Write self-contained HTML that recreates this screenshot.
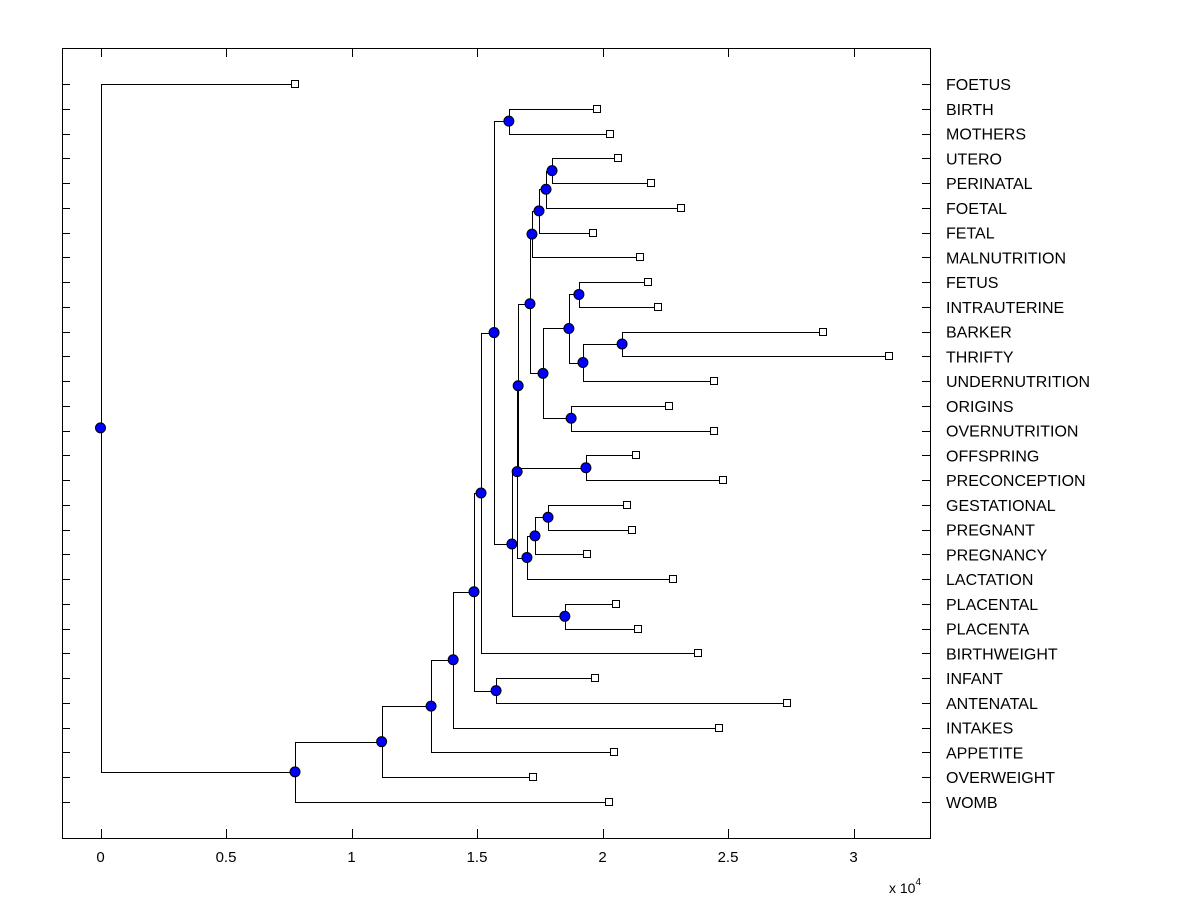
<!DOCTYPE html>
<html><head><meta charset="utf-8"><style>
body{margin:0;background:#fff}
svg text{font-family:"Liberation Sans",Arial,sans-serif}
</style></head><body>
<svg id="chart" width="1200" height="900" xmlns="http://www.w3.org/2000/svg">
<rect x="0" y="0" width="1200" height="900" fill="#fff"/>
<g id="g"></g>
</svg>
<script>
const leafNames = ["FOETUS","BIRTH","MOTHERS","UTERO","PERINATAL","FOETAL","FETAL","MALNUTRITION","FETUS","INTRAUTERINE","BARKER","THRIFTY","UNDERNUTRITION","ORIGINS","OVERNUTRITION","OFFSPRING","PRECONCEPTION","GESTATIONAL","PREGNANT","PREGNANCY","LACTATION","PLACENTAL","PLACENTA","BIRTHWEIGHT","INFANT","ANTENATAL","INTAKES","APPETITE","OVERWEIGHT","WOMB"];
const leafValues = [0.775,1.978,2.03,2.062,2.193,2.313,1.962,2.149,2.181,2.221,2.878,3.141,2.444,2.265,2.444,2.133,2.480,2.098,2.118,1.938,2.281,2.054,2.142,2.381,1.970,2.735,2.464,2.046,1.723,2.026];
// internal nodes: [name, value, childA, childB] children are leaf names or node names
const nodeDefs = [
 ["N17",1.799,"UTERO","PERINATAL"],
 ["N16",1.775,"N17","FOETAL"],
 ["N15",1.747,"N16","FETAL"],
 ["N13",1.719,"N15","MALNUTRITION"],
 ["Nfet",1.906,"FETUS","INTRAUTERINE"],
 ["Nbark",2.078,"BARKER","THRIFTY"],
 ["N19",1.922,"Nbark","UNDERNUTRITION"],
 ["N18",1.866,"Nfet","N19"],
 ["Norig",1.875,"ORIGINS","OVERNUTRITION"],
 ["N14",1.763,"N18","Norig"],
 ["N12",1.711,"N13","N14"],
 ["Noff",1.934,"OFFSPRING","PRECONCEPTION"],
 ["N10",1.664,"N12","Noff"],
 ["N21",1.783,"GESTATIONAL","PREGNANT"],
 ["N20",1.731,"N21","PREGNANCY"],
 ["N11",1.699,"N20","LACTATION"],
 ["N9",1.660,"N10","N11"],
 ["Nplac",1.850,"PLACENTAL","PLACENTA"],
 ["N8",1.639,"N9","Nplac"],
 ["Nbirth",1.627,"BIRTH","MOTHERS"],
 ["N7",1.568,"Nbirth","N8"],
 ["N6",1.516,"N7","BIRTHWEIGHT"],
 ["Ninf",1.576,"INFANT","ANTENATAL"],
 ["N5",1.488,"N6","Ninf"],
 ["N4",1.405,"N5","INTAKES"],
 ["N3",1.317,"N4","APPETITE"],
 ["N2",1.120,"N3","OVERWEIGHT"],
 ["N1",0.775,"N2","WOMB"],
 ["root",0,"FOETUS","N1"]
];
const xTicks=[0,0.5,1,1.5,2,2.5,3];
const xTickLabels=["0","0.5","1","1.5","2","2.5","3"];

const L=62,R=930,T=48,B=838;
const X=v=>100.5+v*251;
const Y=i=>84+i*(802-84)/29;
const NS="http://www.w3.org/2000/svg";
const g=document.getElementById('g');
function el(t,a,p){const e=document.createElementNS(NS,t);for(const k in a)e.setAttribute(k,a[k]);(p||g).appendChild(e);return e;}
const pos={};
leafNames.forEach((n,i)=>pos[n]={x:X(leafValues[i]),y:Y(i)});
nodeDefs.forEach(d=>{const a=pos[d[2]],b=pos[d[3]];pos[d[0]]={x:X(d[1]),y:(a.y+b.y)/2};});
// axes box
const box=el('rect',{x:L+.5,y:T+.5,width:R-L,height:B-T,fill:'none',stroke:'#000'});


// y ticks
leafNames.forEach((n,i)=>{
 const y=Math.round(Y(i))+.5;
 el('line',{x1:L,y1:y,x2:L+8,y2:y,stroke:'#000'});
 el('line',{x1:R-8,y1:y,x2:R,y2:y,stroke:'#000'});
 const t=el('text',{x:946,y:Y(i)+6,'font-size':16,fill:'#000'});
 t.textContent=n;
 
 
});
xTicks.forEach((v,i)=>{
 const x=Math.round(X(v))+.5;
 el('line',{x1:x,y1:B,x2:x,y2:B-9,stroke:'#000'});
 el('line',{x1:x,y1:T,x2:x,y2:T+9,stroke:'#000'});
 const t=el('text',{x:X(v),y:862,'font-size':15,'text-anchor':'middle'});
 t.textContent=xTickLabels[i];
 
 
});
const ex=el('text',{x:889,y:893,'font-size':14});
ex.innerHTML='x 10<tspan dy="-8" font-size="10">4</tspan>';


// links
nodeDefs.forEach(d=>{
 const p=pos[d[0]],a=pos[d[2]],b=pos[d[3]];
 const x=Math.round(p.x)+.5;
 const pl=el('polyline',{points:`${a.x},${Math.round(a.y)+.5} ${x},${Math.round(a.y)+.5} ${x},${Math.round(b.y)+.5} ${b.x},${Math.round(b.y)+.5}`,fill:'none',stroke:'#000'});
 
 
});
leafNames.forEach((n)=>{
 const p=pos[n];
 const r=el('rect',{x:Math.round(p.x)-3.5,y:Math.round(p.y)-3.5,width:7,height:7,fill:'#fff',stroke:'#000'});
 
 
});
nodeDefs.forEach(d=>{
 const p=pos[d[0]];
 const c=el('circle',{cx:p.x,cy:p.y,r:5,fill:'#0000ff',stroke:'#000'});
 
 
});
</script>
</body></html>
